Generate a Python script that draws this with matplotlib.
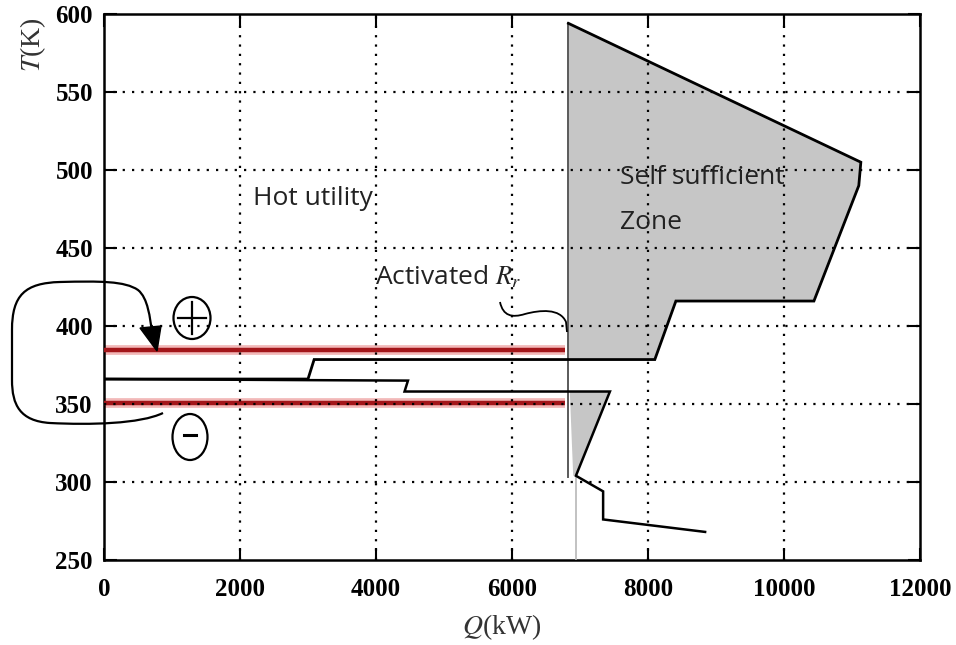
import matplotlib
matplotlib.use("Agg")
import matplotlib.pyplot as plt
from matplotlib.path import Path
from matplotlib.patches import PathPatch, Polygon, Ellipse
from matplotlib import font_manager as fm

plt.rcParams['mathtext.fontset'] = 'stix'

# ---------------- data ----------------
x_ticks = [0, 2000, 4000, 6000, 8000, 10000, 12000]
y_ticks = [250, 300, 350, 400, 450, 500, 550, 600]

# upper composite curve (outline of the self-sufficient zone)
upper_q = [0, 3000, 3090, 8100, 8410, 10440, 11100, 11130, 6830]
upper_t = [366, 366, 378.5, 378.5, 416, 416, 490, 505, 594]

# lower composite curve
lower_q = [0, 3000, 4470, 4420, 7440, 6940, 7340, 7340, 8840]
lower_t = [366, 365.3, 365, 358, 358, 304, 294, 276, 268]

# self-sufficient zone polygon
zone_q = [6830, 6830, 11130, 11100, 10440, 8410, 8100]
zone_t = [378.5, 594, 505, 490, 416, 416, 378.5]

# small pocket below
pocket_q = [6850, 7440, 6940, 6900]
pocket_t = [358, 358, 304, 304]

# red temperature levels
red_t = [384.5, 350.5]
red_q_end = 6780

# activated R_r line and lower grey line
rr_q = 6830
rr_t = [303, 594]
low_q = 6940
low_t = [250, 304]

# ---------------- figure ----------------
W, H = 956, 645
fig = plt.figure(figsize=(W / 100, H / 100), dpi=100)
ax = fig.add_axes([104 / W, 1 - 560 / H, (920 - 104) / W, (560 - 14) / H])
ax.set_xlim(0, 12000)
ax.set_ylim(250, 600)

def fp(x, y):
    return (x / W, 1 - y / H)

# grid on top
ax.set_axisbelow(False)
for g in x_ticks[1:-1]:
    ax.axvline(g, color='black', lw=1.6, ls=(0, (1, 3.2)), zorder=5)
for g in y_ticks[1:-1]:
    ax.axhline(g, color='black', lw=1.6, ls=(0, (1, 3.2)), zorder=5)

# fills
ax.fill(zone_q, zone_t, color='#c6c6c6', zorder=1, lw=0)
ax.fill(pocket_q, pocket_t, color='#c6c6c6', zorder=1, lw=0)

# red lines
for t in red_t:
    ax.plot([0, red_q_end], [t, t], color='#f2b8b8', lw=7, solid_capstyle='butt', zorder=2)
    ax.plot([0, red_q_end], [t, t], color='#a3161a', lw=3.2, solid_capstyle='butt', zorder=3)

# vertical lines
ax.plot([rr_q, rr_q], rr_t, color='#5a5a5a', lw=1.4, zorder=3)
ax.plot([low_q, low_q], low_t, color='#b8b8b8', lw=1.2, zorder=3)

# curves
ax.plot(upper_q, upper_t, color='black', lw=2.0, zorder=6, solid_joinstyle='miter')
ax.plot(lower_q, lower_t, color='black', lw=1.8, zorder=6, solid_joinstyle='miter')

# ticks
tick_fp = fm.FontProperties(family='Liberation Serif', weight='bold', size=18)
ax.set_xticks(x_ticks)
ax.set_yticks(y_ticks)
ax.set_xticklabels([str(v) for v in x_ticks])
ax.set_yticklabels([str(v) for v in y_ticks])
ax.tick_params(direction='in', length=9, width=1.5, top=True, right=True, pad=8)
ax.tick_params(axis='x', pad=13)
for lab in ax.get_xticklabels() + ax.get_yticklabels():
    lab.set_fontproperties(tick_fp)
for s in ax.spines.values():
    s.set_linewidth(1.8)

# axis labels
fig.text(502 / W, 1 - 627 / H, r'$Q$(kW)', fontsize=20, family='Liberation Serif',
         ha='center', va='center', color='#333333')
fig.text(33 / W, 1 - 45 / H, r'$T$(K)', fontsize=20, family='Liberation Serif',
         ha='center', va='center', rotation=90, color='#333333')

# annotations
sans = 'Open Sans'
tc = '#222222'
ax.text(2190, 481.5, 'Hot utility', fontsize=19, family=sans, ha='left', va='center', color=tc, zorder=7)
ax.text(7590, 495.5, 'Self sufficient', fontsize=19, family=sans, ha='left', va='center', color=tc, zorder=7)
ax.text(7590, 466.5, 'Zone', fontsize=19, family=sans, ha='left', va='center', color=tc, zorder=7)
ax.text(3985, 431.5, 'Activated $R_r$', fontsize=19, family=sans, ha='left', va='center', color=tc, zorder=7)

# squiggle from label to R_r line
sq = Path([fp(500, 302), fp(503, 316), fp(512, 318), fp(525, 314),
           fp(540, 310), fp(560, 308), fp(566, 322), fp(567, 332)],
          [Path.MOVETO, Path.CURVE4, Path.CURVE4, Path.CURVE4,
           Path.CURVE4, Path.CURVE4, Path.CURVE4, Path.LINETO])
fig.add_artist(PathPatch(sq, fill=False, lw=1.3, color='black', transform=fig.transFigure))

# loop arrow on the left
loop = Path([fp(163, 413),
             fp(140, 424), fp(90, 425), fp(50, 423),
             fp(20, 421), fp(12, 405), fp(12, 380),
             fp(12, 330),
             fp(12, 295), fp(25, 283), fp(60, 282),
             fp(100, 281), fp(125, 281), fp(138, 290),
             fp(148, 298), fp(150, 318), fp(152, 332)],
            [Path.MOVETO,
             Path.CURVE4, Path.CURVE4, Path.CURVE4,
             Path.CURVE4, Path.CURVE4, Path.CURVE4,
             Path.LINETO,
             Path.CURVE4, Path.CURVE4, Path.CURVE4,
             Path.CURVE4, Path.CURVE4, Path.CURVE4,
             Path.CURVE4, Path.CURVE4, Path.CURVE4])
fig.add_artist(PathPatch(loop, fill=False, lw=1.6, color='black', transform=fig.transFigure))
fig.add_artist(Polygon([fp(140, 328), fp(161, 326), fp(157, 351)], closed=True,
                       color='black', transform=fig.transFigure))

# circled plus and minus
fig.add_artist(Ellipse(fp(192, 318), 37 / W, 42 / H, fill=False, lw=1.6,
                       color='black', transform=fig.transFigure))
fig.add_artist(plt.Line2D([178 / W, 206 / W], [1 - 318 / H, 1 - 318 / H], color='black', lw=1.6))
fig.add_artist(plt.Line2D([192 / W, 192 / W], [1 - 302 / H, 1 - 334 / H], color='black', lw=1.6))
fig.add_artist(Ellipse(fp(190, 437), 35 / W, 46 / H, fill=False, lw=1.6,
                       color='black', transform=fig.transFigure))
fig.add_artist(plt.Line2D([184 / W, 196 / W], [1 - 435 / H, 1 - 435 / H], color='black', lw=2.2))

fig.savefig('out.png', dpi=100)
